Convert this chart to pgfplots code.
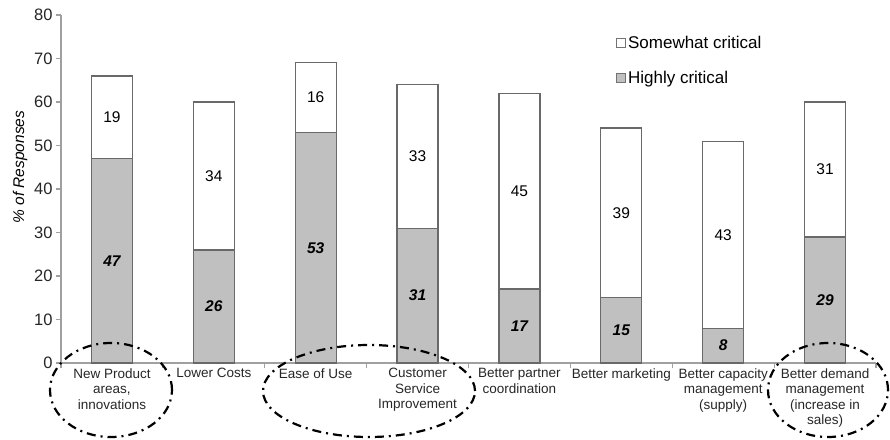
\documentclass[border=0pt]{standalone}
\usepackage{pgfplots}
\pgfplotsset{compat=1.18}
\usepackage{fontspec}
\setmainfont{Liberation Sans}
\definecolor{barfill}{RGB}{192,192,192}
\definecolor{baredge}{RGB}{105,105,105}
\definecolor{axisgray}{RGB}{160,160,160}
\begin{document}
\begin{tikzpicture}
\path[use as bounding box] (-61pt,-76pt) rectangle (829pt,363pt);
\pgfplotsset{
  common/.style={
    scale only axis, width=815pt, height=348pt,
    xmin=-0.5, xmax=7.5, ymin=0, ymax=80,
    at={(0pt,0pt)}, anchor=south west,
  }
}
\begin{axis}[common,
  ybar stacked, bar width=41pt,
  axis x line=bottom, axis y line=left,
  axis line style={-, draw=axisgray, line width=1.5pt},
  ytick={0,10,...,80},
  xtick={-0.5,0.5,...,7.5},
  xticklabels={},
  extra x ticks={0,1,2,3,4,5,6,7},
  extra x tick labels={{New Product\\areas,\\innovations},{Lower Costs},{Ease of Use},{Customer\\Service\\Improvement},{Better partner\\coordination},{Better marketing},{Better capacity\\management\\(supply)},{Better demand\\management\\(increase in\\sales)}},
  extra x tick style={major tick length=0pt, tick style={draw=none}},
  tick align=outside,
  major tick length=5pt,
  tick style={draw=axisgray, line width=1.2pt},
  /pgf/number format/assume math mode=true,
  yticklabel style={font=\fontsize{16.5}{16.5}\selectfont, text=black!85},
  xticklabel style={font=\fontsize{13.5}{15.5}\selectfont, align=center, text=black!85, yshift=-2pt},
  ylabel={\% of Responses},
  ylabel style={font=\itshape\fontsize{15.5}{15.5}\selectfont, at={(axis description cs:-0.0503,0.563)}, anchor=center},
  legend style={draw=none, fill=none, at={(axis description cs:0.681,0.945)}, anchor=north west, font=\fontsize{17}{17}\selectfont, row sep=17pt, inner sep=0pt},
  legend cell align=left,
  legend image code/.code={\draw[#1, line width=0.9pt, draw=black!55] (0pt,-4.5pt) rectangle (9pt,4.5pt);},
  reverse legend,
]
\addplot[fill=barfill, draw=baredge, line width=1.3pt] coordinates {(0,47) (1,26) (2,53) (3,31) (4,17) (5,15) (6,8) (7,29)};
\addplot[fill=white, draw=baredge, line width=1.3pt] coordinates {(0,19) (1,34) (2,16) (3,33) (4,45) (5,39) (6,43) (7,31)};
\legend{Highly critical, Somewhat critical}
\end{axis}
\begin{axis}[common, hide axis]
\addplot[only marks, mark=none, nodes near coords, point meta=explicit symbolic,
  every node near coord/.append style={anchor=center, font=\bfseries\itshape\fontsize{15.5}{15.5}\selectfont}]
  coordinates {(0,23.5)[47] (1,13)[26] (2,26.5)[53] (3,15.5)[31] (4,8.5)[17] (5,7.5)[15] (6,4)[8] (7,14.5)[29]};
\addplot[only marks, mark=none, nodes near coords, point meta=explicit symbolic,
  every node near coord/.append style={anchor=center, font=\fontsize{15.5}{15.5}\selectfont}]
  coordinates {(0,56.5)[19] (1,43)[34] (2,61)[16] (3,47.5)[33] (4,39.5)[45] (5,34.5)[39] (6,29.5)[43] (7,44.5)[31]};
\end{axis}
\begin{scope}[line width=2.2pt, dash pattern=on 9pt off 5pt on 2pt off 5pt]
\draw (50pt,-27pt) ellipse [x radius=61pt, y radius=47pt];
\draw (308pt,-28pt) ellipse [x radius=106pt, y radius=46pt];
\draw (767pt,-27pt) ellipse [x radius=60pt, y radius=47pt];
\end{scope}
\end{tikzpicture}
\end{document}
